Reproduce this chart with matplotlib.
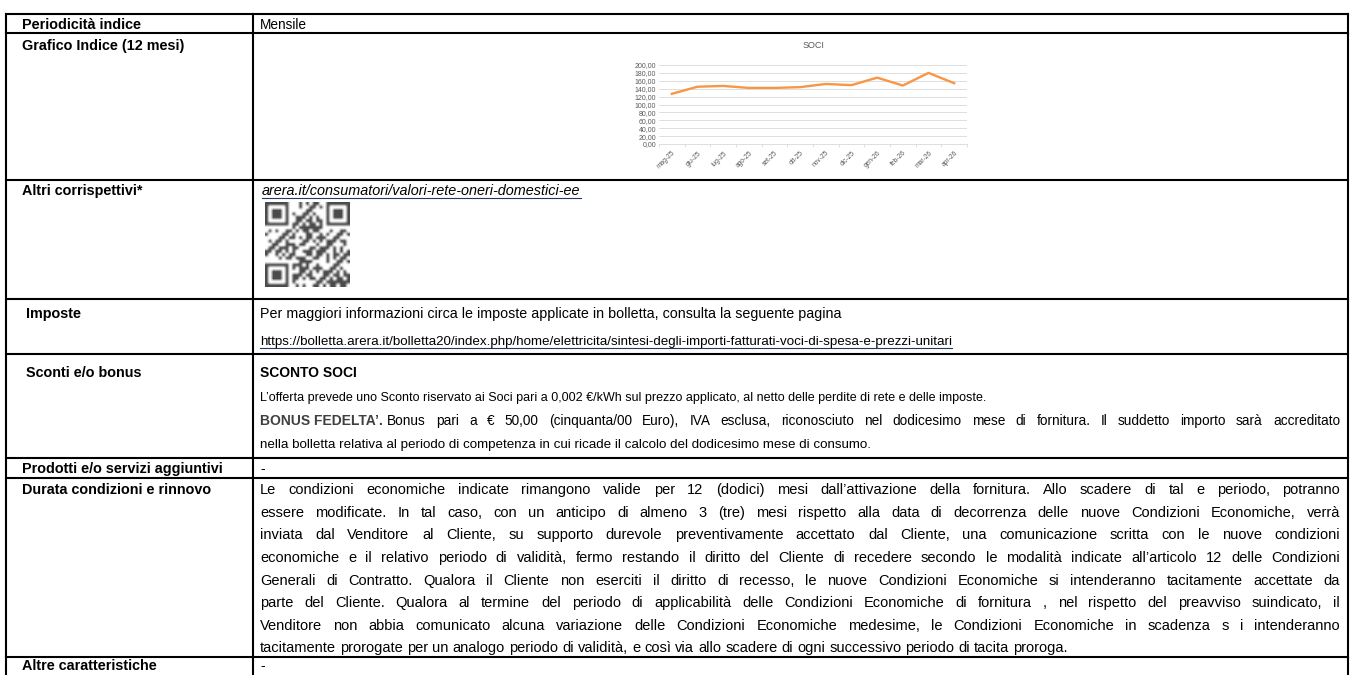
import matplotlib.pyplot as plt
import numpy as np

plt.rcParams['font.family'] = ['Liberation Sans', 'DejaVu Sans']

months = ["mag-25", "giu-25", "lug-25", "ago-25", "set-25", "ott-25",
          "nov-25", "dic-25", "gen-26", "feb-26", "mar-26", "apr-26"]
soci = [127, 145, 147, 142, 142, 144, 152, 149, 168, 148, 180, 154]

labels = ["Periodicità indice", "Grafico Indice (12 mesi)", "Altri corrispettivi*",
          "Imposte", "Sconti e/o bonus", "Prodotti e/o servizi aggiuntivi",
          "Durata condizioni e rinnovo", "Altre caratteristiche"]

link_arera = "arera.it/consumatori/valori-rete-oneri-domestici-ee"
imposte_txt = "Per maggiori informazioni circa le imposte applicate in bolletta, consulta la seguente pagina"
imposte_url = ("https://bolletta.arera.it/bolletta20/index.php/home/elettricita/"
               "sintesi-degli-importi-fatturati-voci-di-spesa-e-prezzi-unitari")
sconto_title = "SCONTO SOCI"
sconto_txt = ("L\u2019offerta prevede uno Sconto riservato ai Soci pari a 0,002 \u20ac/kWh sul prezzo "
              "applicato, al netto delle perdite di rete e delle imposte.")
bonus_title = "BONUS FEDELTA\u2019."
bonus_txt1 = ("Bonus pari a \u20ac 50,00 (cinquanta/00 Euro), IVA esclusa, riconosciuto nel dodicesimo "
              "mese di fornitura. Il suddetto importo sarà accreditato")
bonus_txt2 = "nella bolletta relativa al periodo di competenza in cui ricade il calcolo del dodicesimo mese di consumo."
durata = [
    "Le condizioni economiche indicate rimangono valide per 12 (dodici) mesi dall\u2019attivazione della fornitura. Allo scadere di tal e periodo, potranno",
    "essere modificate. In tal caso, con un anticipo di almeno 3 (tre) mesi rispetto alla data di decorrenza delle nuove Condizioni Economiche, verrà",
    "inviata dal Venditore al Cliente, su supporto durevole preventivamente accettato dal Cliente, una comunicazione scritta con le nuove condizioni",
    "economiche e il relativo periodo di validità, fermo restando il diritto del Cliente di recedere secondo le modalità indicate all\u2019articolo 12 delle Condizioni",
    "Generali di Contratto. Qualora il Cliente non eserciti il diritto di recesso, le nuove Condizioni Economiche si intenderanno tacitamente accettate da",
    "parte del Cliente. Qualora al termine del periodo di applicabilità delle Condizioni Economiche di fornitura , nel rispetto del preavviso suindicato, il",
    "Venditore non abbia comunicato alcuna variazione delle Condizioni Economiche medesime, le Condizioni Economiche in scadenza s i intenderanno",
    "tacitamente prorogate per un analogo periodo di validità, e così via allo scadere di ogni successivo periodo di tacita proroga.",
]

fig = plt.figure(figsize=(13.5, 6.75), dpi=100)
ax = fig.add_axes([0, 0, 1, 1])
r = fig.canvas.get_renderer()

# table grid (the table continues below the bottom edge)
rows = [14, 33, 180, 299, 354, 458, 478, 657]
xl, xs, xr = 6, 253, 1348
for y in rows:
    ax.plot([xl, xr], [y, y], color='black', lw=1.5, solid_capstyle='projecting')
for x in (xl, xs, xr):
    ax.plot([x, x], [rows[0], 680], color='black', lw=1.5, solid_capstyle='projecting')

# QR code look-alike (finder patterns + module pattern from the link text)
n = 25
qr = np.zeros((n, n))
bits = ''.join(format(ord(c), '08b') for c in link_arera * 3)
k = 0
for i in range(n):
    for j in range(n):
        qr[i, j] = int(bits[k % len(bits)])
        k += 7
for (i0, j0) in [(0, 0), (0, n - 7), (n - 7, 0)]:
    qr[max(i0 - 1, 0):i0 + 8, max(j0 - 1, 0):j0 + 8] = 0
    qr[i0:i0 + 7, j0:j0 + 7] = 1
    qr[i0 + 1:i0 + 6, j0 + 1:j0 + 6] = 0
    qr[i0 + 2:i0 + 5, j0 + 2:j0 + 5] = 1
ax.imshow(qr, cmap='Greys', vmin=0, vmax=1.3, extent=[265, 350, 287, 202],
          interpolation='bilinear', zorder=2)
ax.set_xlim(0, 1350)
ax.set_ylim(675, 0)
ax.set_aspect('auto')
ax.axis('off')


def put(x, y, s, fs, **kw):
    # y is the visual middle of capital letters; draw on the baseline
    return ax.text(x, y + 0.36 * fs * 100 / 72, s, fontsize=fs, va='baseline', **kw)


def width(t):
    return t.get_window_extent(r).width


def underline(t, y, color='black'):
    x0 = t.get_position()[0]
    ax.plot([x0, x0 + width(t)], [y, y], color=color, lw=0.8)


def justify(line, y, x0, x1, fs, last=False, **kw):
    words = line.split(' ')
    ts = [put(0, y, w, fs, **kw) for w in words]
    ws = [width(t) for t in ts]
    if last:
        gap = fs * 0.28 * 100 / 72
    else:
        gap = (x1 - x0 - sum(ws)) / (len(words) - 1)
    x = x0
    for t, w in zip(ts, ws):
        t.set_x(x)
        x += w + gap


tx = 260
lab_x = [22, 22, 22, 26, 26, 22, 22, 22]
lab_y = [24, 45, 190, 313, 372, 468, 489, 665]
for lab, x, y in zip(labels, lab_x, lab_y):
    put(x, y, lab, 10.4, fontweight='bold')

put(tx, 24, "Mensile", 9.8)

t = put(tx + 2, 190, link_arera, 10.4, style='italic')
underline(t, 198, '#1f3864')

put(tx, 313, imposte_txt, 10.3)
t = put(tx, 340, imposte_url, 9.6)
underline(t, 348, '#1f3864')

put(tx, 372, sconto_title, 10, fontweight='bold')
put(tx, 396, sconto_txt, 9)
t = put(tx, 420, bonus_title, 10, fontweight='bold', color='#404040')
justify(bonus_txt1, 420, tx + width(t) + 4, 1340, 9.8)
put(tx, 443, bonus_txt2, 9.6)

put(tx, 468, "-", 10)
put(tx, 665, "-", 10)

# justified paragraph
x_end = 1340
ys = np.linspace(489, 647, len(durata))
for li, (line, y) in enumerate(zip(durata, ys)):
    justify(line, y, tx, x_end, 10.5, last=(li == len(durata) - 1))

# small line chart
cax = fig.add_axes([659 / 1350, 1 - 144 / 675, 308 / 1350, 79 / 675])
xi = np.arange(len(months))
cax.plot(xi, soci, color='#F79646', lw=1.7, zorder=3)
cax.set_xlim(-0.5, len(months) - 0.5)
cax.set_ylim(0, 200)
cax.set_yticks(range(0, 201, 20))
cax.set_yticklabels([f"{v},00" for v in range(0, 201, 20)], fontsize=5, color='#595959')
cax.yaxis.grid(True, color='#d9d9d9', lw=0.6)
cax.set_axisbelow(True)
cax.tick_params(axis='y', length=0, pad=2)
cax.set_xticks(xi)
cax.set_xticklabels(months, rotation=45, ha='right', rotation_mode='anchor', fontsize=4.8,
                    color='#595959')
cax.set_xticks(np.arange(-0.5, len(months)), minor=True)
cax.tick_params(axis='x', which='major', length=0, pad=4)
cax.tick_params(axis='x', which='minor', length=2.5, color='#d9d9d9')
for s in ('top', 'right', 'left'):
    cax.spines[s].set_visible(False)
cax.spines['bottom'].set_color('#d9d9d9')
cax.spines['bottom'].set_linewidth(0.6)
cax.set_title("SOCI", fontsize=6.5, color='#595959', pad=12)

fig.savefig("out.png", dpi=100)
